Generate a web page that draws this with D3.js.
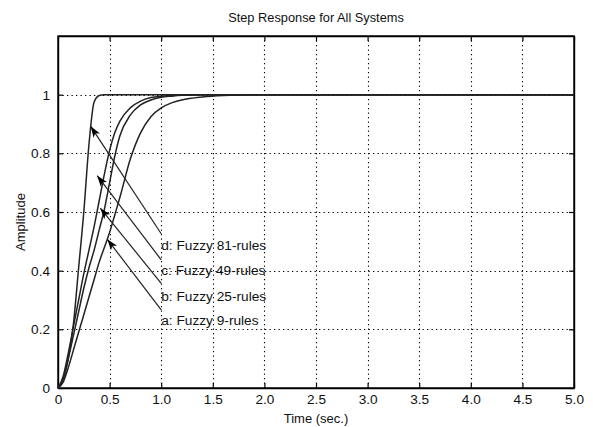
<!DOCTYPE html>
<html>
<head>
<meta charset="utf-8">
<script src="https://cdn.jsdelivr.net/npm/d3@7"></script>
<style>
  body { margin: 0; background: #fff; }
  svg { display: block; font-family: "Liberation Sans", Arial, sans-serif; }
</style>
</head>
<body>
<svg id="chart" width="593" height="427"></svg>
<script>
// ---- data ----
const title = "Step Response for All Systems";
const xLabel = "Time (sec.)";
const yLabel = "Amplitude";
const xTicks = [0, 0.5, 1.0, 1.5, 2.0, 2.5, 3.0, 3.5, 4.0, 4.5, 5.0];
const xTickLabels = ["0", "0.5", "1.0", "1.5", "2.0", "2.5", "3.0", "3.5", "4.0", "4.5", "5.0"];
const yTicks = [0, 0.2, 0.4, 0.6, 0.8, 1];
const yTickLabels = ["0", "0.2", "0.4", "0.6", "0.8", "1"];

const time = [0, 0.05, 0.1, 0.15, 0.2, 0.25, 0.3, 0.35, 0.4, 0.45, 0.5, 0.55, 0.6, 0.7, 0.8, 0.9, 1.0, 1.1, 1.2, 1.4, 1.6, 1.8, 2.0, 3.0, 5.0];
const rules81 = [0, 0.03, 0.1, 0.22, 0.41, 0.6, 0.83, 0.975, 0.997, 1, 1, 1, 1, 1, 1, 1, 1, 1, 1, 1, 1, 1, 1, 1, 1];
const rules49 = [0, 0.04, 0.12, 0.21, 0.3, 0.39, 0.47, 0.55, 0.64, 0.73, 0.81, 0.87, 0.91, 0.955, 0.978, 0.99, 0.995, 0.997, 0.999, 1, 1, 1, 1, 1, 1];
const rules25 = [0, 0.03, 0.1, 0.18, 0.26, 0.34, 0.41, 0.47, 0.54, 0.61, 0.7, 0.79, 0.86, 0.93, 0.965, 0.982, 0.991, 0.995, 0.998, 1, 1, 1, 1, 1, 1];
const rules9  = [0, 0.02, 0.07, 0.13, 0.19, 0.25, 0.31, 0.37, 0.43, 0.48, 0.53, 0.59, 0.65, 0.78, 0.87, 0.925, 0.955, 0.972, 0.982, 0.992, 0.997, 0.999, 1, 1, 1];

// annotations: label, arrow tip (t, amplitude), arrow tail (t, amplitude)
const annLabels = ["d: Fuzzy 81-rules", "c: Fuzzy 49-rules", "b: Fuzzy 25-rules", "a: Fuzzy 9-rules"];
const annTipT = [0.317, 0.38, 0.41, 0.478];
const annTipY = [0.892, 0.724, 0.613, 0.507];
const annTailT = [1.0, 1.0, 1.0, 1.0];
const annTailY = [0.526, 0.437, 0.357, 0.266];
const annTextY = [0.488, 0.403, 0.313, 0.232];

// ---- layout ----
const svg = d3.select("#chart");
const m = { left: 58, right: 574, top: 36, bottom: 388 };
const x = d3.scaleLinear().domain([0, 5]).range([m.left, m.right]);
const y = d3.scaleLinear().domain([0, 1.2]).range([m.bottom, m.top]);

// grid
const grid = svg.append("g").attr("stroke", "#000").attr("stroke-width", 1.1)
  .attr("stroke-dasharray", "1.3,3.2");
grid.selectAll(".gx").data(xTicks.slice(1, -1)).enter().append("line")
  .attr("x1", d => Math.round(x(d)) + 0.5).attr("x2", d => Math.round(x(d)) + 0.5)
  .attr("y1", m.top).attr("y2", m.bottom);
grid.selectAll(".gy").data(yTicks.slice(1)).enter().append("line")
  .attr("y1", d => Math.round(y(d)) + 0.5).attr("y2", d => Math.round(y(d)) + 0.5)
  .attr("x1", m.left).attr("x2", m.right);

// axes (inward ticks on all four sides)
const fmtX = (d, i) => xTickLabels[i];
const fmtY = (d, i) => yTickLabels[i];
const axB = svg.append("g").attr("transform", `translate(0,${m.bottom})`)
  .call(d3.axisBottom(x).tickValues(xTicks).tickFormat(fmtX).tickSizeInner(-5).tickSizeOuter(0).tickPadding(6));
const axT = svg.append("g").attr("transform", `translate(0,${m.top})`)
  .call(d3.axisTop(x).tickValues(xTicks).tickFormat("").tickSizeInner(-5).tickSizeOuter(0));
const axL = svg.append("g").attr("transform", `translate(${m.left},0)`)
  .call(d3.axisLeft(y).tickValues(yTicks).tickFormat(fmtY).tickSizeInner(-5).tickSizeOuter(0).tickPadding(8));
const axR = svg.append("g").attr("transform", `translate(${m.right},0)`)
  .call(d3.axisRight(y).tickValues(yTicks).tickFormat("").tickSizeInner(-5).tickSizeOuter(0));
[axB, axT, axL, axR].forEach(a => {
  a.selectAll("path").attr("stroke", "#000").attr("stroke-width", 1.4);
  a.selectAll("line").attr("stroke", "#000").attr("stroke-width", 1.2);
  a.selectAll("text").attr("font-size", 13.6).attr("fill", "#111")
    .attr("font-family", "'Liberation Sans', Arial, sans-serif");
});
// frame
svg.append("rect").attr("x", m.left).attr("y", m.top)
  .attr("width", m.right - m.left).attr("height", m.bottom - m.top)
  .attr("fill", "none").attr("stroke", "#000").attr("stroke-width", 1.4);

// curves
const series = [rules9, rules25, rules49, rules81];
const line = d3.line().x((d, i) => x(time[i])).y(d => y(d)).curve(d3.curveMonotoneX);
svg.append("g").selectAll("path").data(series).enter().append("path")
  .attr("d", d => line(d)).attr("fill", "none").attr("stroke", "#222").attr("stroke-width", 1.5);

// arrows
svg.append("defs").append("marker").attr("id", "ah")
  .attr("viewBox", "0 0 10 10").attr("refX", 10).attr("refY", 5)
  .attr("markerWidth", 11).attr("markerHeight", 11).attr("markerUnits", "userSpaceOnUse")
  .attr("orient", "auto")
  .append("path").attr("d", "M0,1.5 L10,5 L0,8.5 L2.5,5 Z").attr("fill", "#000");
const ann = svg.append("g");
annLabels.forEach((lab, i) => {
  ann.append("line")
    .attr("x1", x(annTailT[i])).attr("y1", y(annTailY[i]))
    .attr("x2", x(annTipT[i])).attr("y2", y(annTipY[i]))
    .attr("stroke", "#222").attr("stroke-width", 1.2).attr("marker-end", "url(#ah)");
  ann.append("text").attr("x", x(annTailT[i])).attr("y", y(annTextY[i]))
    .attr("dy", "0.35em").attr("font-size", 13.7).attr("fill", "#111").text(lab);
});

// titles
svg.append("text").attr("x", (m.left + m.right) / 2).attr("y", 22)
  .attr("text-anchor", "middle").attr("font-size", 12.8).attr("fill", "#111").text(title);
svg.append("text").attr("x", (m.left + m.right) / 2).attr("y", 423)
  .attr("text-anchor", "middle").attr("font-size", 13).attr("fill", "#111").text(xLabel);
svg.append("text").attr("transform", `translate(25,${(m.top + m.bottom) / 2 + 10}) rotate(-90)`)
  .attr("text-anchor", "middle").attr("font-size", 13).attr("fill", "#111").text(yLabel);
</script>
</body>
</html>
